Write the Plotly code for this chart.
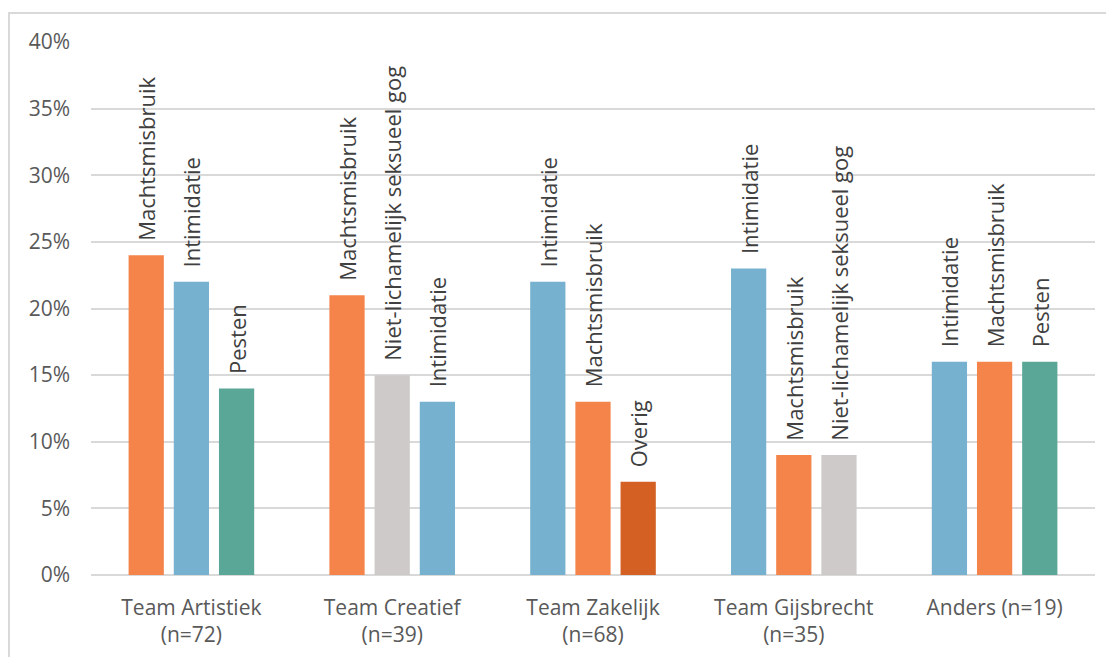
import plotly.graph_objects as go

categories = ["Team Artistiek<br>(n=72)", "Team Creatief<br>(n=39)", "Team Zakelijk<br>(n=68)",
              "Team Gijsbrecht<br>(n=35)", "Anders (n=19)"]

slot1_labels = ["Machtsmisbruik", "Machtsmisbruik", "Intimidatie", "Intimidatie", "Intimidatie"]
slot1_values = [0.24, 0.21, 0.22, 0.23, 0.16]
slot2_labels = ["Intimidatie", "Niet-lichamelijk seksueel gog", "Machtsmisbruik", "Machtsmisbruik", "Machtsmisbruik"]
slot2_values = [0.22, 0.15, 0.13, 0.09, 0.16]
slot3_labels = ["Pesten", "Intimidatie", "Overig", "Niet-lichamelijk seksueel gog", "Pesten"]
slot3_values = [0.14, 0.13, 0.07, 0.09, 0.16]

colors = {
    "Machtsmisbruik": "#F4844A",
    "Intimidatie": "#76B1CF",
    "Pesten": "#5AA798",
    "Niet-lichamelijk seksueel gog": "#CECAC9",
    "Overig": "#D46024",
}

FONT = "Open Sans"
pad = "\u00a0\u00a0"

fig = go.Figure()
for labels, values in [(slot1_labels, slot1_values), (slot2_labels, slot2_values), (slot3_labels, slot3_values)]:
    fig.add_trace(go.Bar(
        x=categories, y=values,
        marker=dict(color=[colors[l] for l in labels], line=dict(width=0)),
        text=[pad + l for l in labels],
        textposition="outside", textangle=-90,
        textfont=dict(family=FONT, size=22, color="#404040"),
        constraintext="none", cliponaxis=False,
        hoverinfo="skip", showlegend=False,
    ))

# page body has an 8px margin; figure coordinates = screen - 8
OFF = 8
W, H = 1114 - OFF, 657 - OFF
L, R, T, B = 91 - OFF, 19, 42 - OFF, 82
pw, ph = W - L - R, H - T - B

def px(x):
    return (x - OFF - L) / pw

def py(y):
    return (H - B - (y - OFF)) / ph

fig.add_shape(type="rect", xref="paper", yref="paper",
              x0=px(9), x1=px(1130), y0=py(680), y1=py(13),
              line=dict(color="#D9D9D9", width=2), fillcolor="rgba(0,0,0,0)", layer="below")

fig.update_layout(
    width=W, height=H,
    margin=dict(l=L, r=R, t=T, b=B, autoexpand=False),
    paper_bgcolor="white", plot_bgcolor="white",
    barmode="group", bargap=0.325, bargroupgap=0.22,
    font=dict(family=FONT, size=21, color="#595959"),
    xaxis=dict(showgrid=False, showline=False, ticks="", ticklabelstandoff=18, automargin=False,
               tickfont=dict(family=FONT, size=21, color="#595959")),
    yaxis=dict(range=[0, 0.40], dtick=0.05, tickformat=".0%", showgrid=True, automargin=False,
               gridcolor="#D9D9D9", gridwidth=2, zeroline=True, zerolinecolor="#D9D9D9",
               zerolinewidth=2, showline=False, ticks="", ticklabelstandoff=20,
               tickfont=dict(family=FONT, size=21, color="#595959")),
)

fig.write_html("out.html")
